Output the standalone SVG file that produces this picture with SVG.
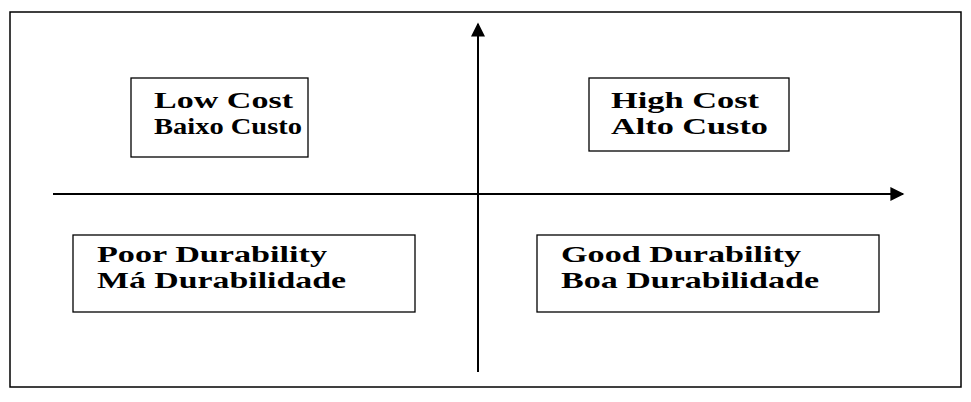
<svg xmlns="http://www.w3.org/2000/svg" width="971" height="402" viewBox="0 0 971 402">
<style>
.b{fill:#fff;stroke:#000;stroke-width:1.3}
.t{font-family:"Liberation Serif",serif;font-weight:bold;font-size:24px;fill:#000}
.ax{stroke:#000;stroke-width:2;fill:none}
</style>
<defs><marker id="ah" viewBox="0 0 10 10" refX="9" refY="5" markerWidth="16" markerHeight="14" markerUnits="userSpaceOnUse" orient="auto"><path d="M0,0L10,5L0,10z" fill="#000"/></marker></defs>
<rect x="0" y="0" width="971" height="402" fill="#fff"/>
<rect x="10" y="12" width="951" height="375" fill="none" stroke="#000" stroke-width="1.5"/>
<g id="connectors">
<line class="ax" x1="478" y1="372" x2="478" y2="24" marker-end="url(#ah)"/>
<line class="ax" x1="53" y1="194" x2="903" y2="194" marker-end="url(#ah)"/>
</g>
<g id="lowcost"><rect class="b" x="131" y="78" width="177" height="79"/><text class="t" x="154" y="108" textLength="139" lengthAdjust="spacingAndGlyphs">Low Cost</text><text class="t" x="154" y="134" textLength="148" lengthAdjust="spacingAndGlyphs">Baixo Custo</text></g>
<g id="highcost"><rect class="b" x="589" y="78" width="200" height="73"/><text class="t" x="611" y="108" textLength="148" lengthAdjust="spacingAndGlyphs">High Cost</text><text class="t" x="611" y="134" textLength="157" lengthAdjust="spacingAndGlyphs">Alto Custo</text></g>
<g id="poor"><rect class="b" x="73" y="235" width="342" height="77"/><text class="t" x="97" y="262" textLength="230" lengthAdjust="spacingAndGlyphs">Poor Durability</text><text class="t" x="97" y="288" textLength="249" lengthAdjust="spacingAndGlyphs">Má Durabilidade</text></g>
<g id="good"><rect class="b" x="537" y="235" width="342" height="77"/><text class="t" x="561" y="262" textLength="240" lengthAdjust="spacingAndGlyphs">Good Durability</text><text class="t" x="561" y="288" textLength="258" lengthAdjust="spacingAndGlyphs">Boa Durabilidade</text></g>
</svg>
